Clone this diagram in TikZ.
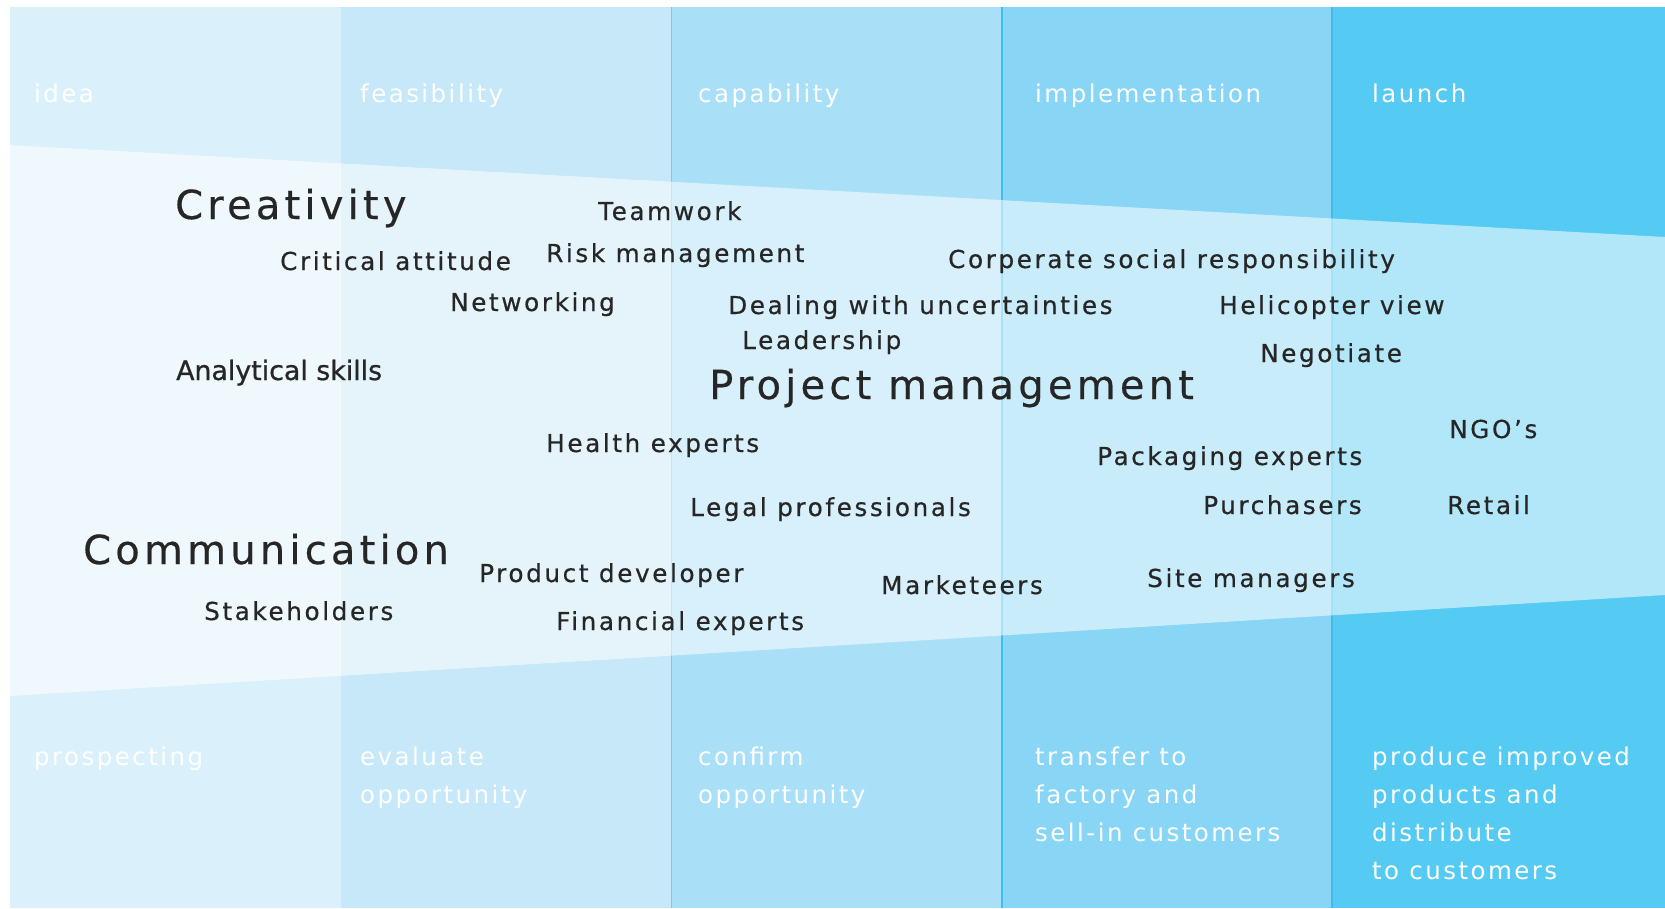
\documentclass[tikz,border=0pt]{standalone}
\usepackage{fontspec}
\setmainfont[LetterSpace=10]{DejaVu Sans}
\newfontfamily\inkfont[LetterSpace=10.5, FakeBold=0.5]{DejaVu Sans}
\newfontfamily\plainfont[FakeBold=0.8]{DejaVu Sans}
\definecolor{cA}{HTML}{DAF0FB}
\definecolor{cB}{HTML}{C6E8F8}
\definecolor{cC}{HTML}{AADFF8}
\definecolor{cD}{HTML}{88D5F5}
\definecolor{cE}{HTML}{55CAF3}
\definecolor{sepline}{HTML}{3EBDEB}
\definecolor{ink}{HTML}{262626}
\begin{document}
\begin{tikzpicture}[x=1pt,y=-1pt,
  skill/.style={anchor=base west, inner sep=0pt, text=ink, font=\inkfont\fontsize{24.7}{28}\selectfont},
  big/.style={anchor=base west, inner sep=0pt, text=ink, font=\inkfont\fontsize{40}{44}\selectfont},
  phase/.style={anchor=base west, inner sep=0pt, text=white, font=\fontsize{24.5}{38}\selectfont, align=left}]
\useasboundingbox (0,0) rectangle (1665,908);
\fill[white] (0,0) rectangle (1665,908);
\fill[cA] (10,7) rectangle (341,908);
\fill[cB] (341,7) rectangle (671,908);
\fill[cC] (671,7) rectangle (1002,908);
\fill[cD] (1002,7) rectangle (1332,908);
\fill[cE] (1332,7) rectangle (1665,908);
\draw[sepline, line width=1pt, opacity=0.5] (671,7) -- (671,908);
\draw[sepline, line width=1.5pt] (1002,7) -- (1002,908);
\draw[sepline, line width=1.5pt] (1332,7) -- (1332,908);
\fill[white, opacity=0.55] (10,145) -- (1665,237) -- (1665,595) -- (10,696) -- cycle;
% phases (base anchor = baseline of the last line)
\node[phase] (p1) at (34,102) {idea};
\node[phase] (p2) at (360,102) {feasibility};
\node[phase] (p3) at (698,102) {capability};
\node[phase] (p4) at (1035,102) {implementation};
\node[phase] (p5) at (1372,102) {launch};
\node[phase] (o1) at (34,765) {prospecting};
\node[phase] (o2) at (360,803) {evaluate\\opportunity};
\node[phase] (o3) at (698,803) {confirm\\opportunity};
\node[phase] (o4) at (1035,841) {transfer to\\factory and\\sell-in customers};
\node[phase] (o5) at (1372,879) {produce improved\\products and\\distribute\\to customers};
% skills
\node[big] (creativity) at (175,219) {Creativity};
\node[big] (pm) at (709,399) {Project management};
\node[big] (comm) at (83,564) {Communication};
\node[skill] (teamwork) at (598,220) {Teamwork};
\node[skill] (critical) at (280,270) {Critical attitude};
\node[skill] (risk) at (546,262) {Risk management};
\node[skill] (csr) at (948,268) {Corperate social responsibility};
\node[skill] (networking) at (450,311) {Networking};
\node[skill] (dealing) at (728,314) {Dealing with uncertainties};
\node[skill] (heli) at (1219,314) {Helicopter view};
\node[skill] (leader) at (742,349) {Leadership};
\node[skill] (nego) at (1260,362) {Negotiate};
\node[skill, font=\plainfont\fontsize{26.8}{30}\selectfont] (analytic) at (176,380) {Analytical skills};
\node[skill] (ngo) at (1449,438) {NGO’s};
\node[skill] (health) at (546,452) {Health experts};
\node[skill] (pack) at (1097,465) {Packaging experts};
\node[skill] (legal) at (690,516) {Legal professionals};
\node[skill] (purch) at (1203,514) {Purchasers};
\node[skill] (retail) at (1447,514) {Retail};
\node[skill] (proddev) at (479,582) {Product developer};
\node[skill] (market) at (881,594) {Marketeers};
\node[skill] (site) at (1147,587) {Site managers};
\node[skill] (stake) at (204,620) {Stakeholders};
\node[skill] (fin) at (556,630) {Financial experts};
\end{tikzpicture}
\end{document}
